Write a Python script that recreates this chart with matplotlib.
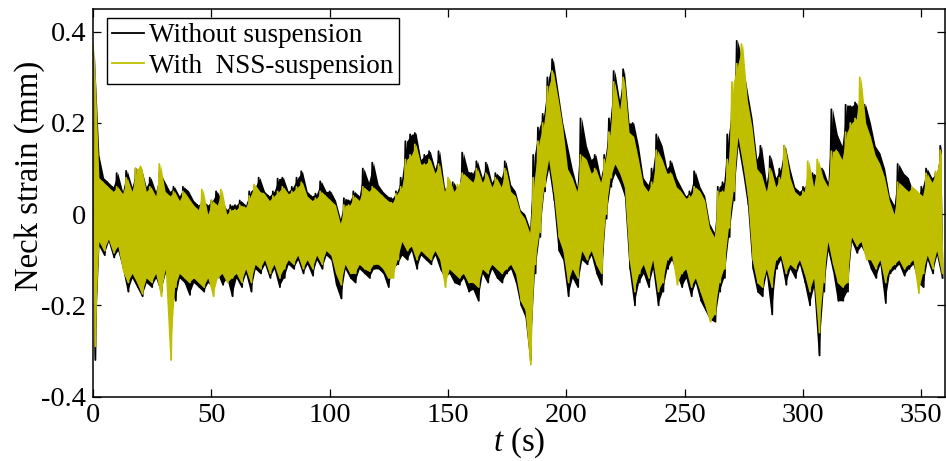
import numpy as np
import matplotlib
matplotlib.use("Agg")
import matplotlib.pyplot as plt

plt.rcParams['font.family'] = ['Liberation Serif', 'DejaVu Serif']
plt.rcParams['mathtext.fontset'] = 'custom'
plt.rcParams['mathtext.rm'] = 'Liberation Serif'
plt.rcParams['mathtext.it'] = 'Liberation Serif:italic'

# envelope readings, one pair per 2 s window: peak at even second, trough at odd second
black_hi = [0.36, 0.13, 0.08, 0.07, 0.06, 0.09, 0.05, 0.095, 0.06, 0.10,
            0.10, 0.06, 0.08, 0.05, 0.09, 0.07, 0.05, 0.06, 0.04, 0.06,
            0.05, 0.03, 0.02, 0.03, 0.02, 0.03, 0.05, 0.03, 0.01, 0.02,
            0.02, 0.03, 0.02, 0.05, 0.06, 0.08, 0.05, 0.04, 0.05, 0.078,
            0.08, 0.05, 0.06, 0.08, 0.094, 0.05, 0.04, 0.045, 0.072, 0.05,
            0.05, 0.03, -0.01, 0.035, 0.03, 0.05, 0.04, 0.10, 0.07, 0.113,
            0.065, 0.05, 0.04, 0.035, 0.05, 0.08, 0.16, 0.175, 0.178, 0.12,
            0.13, 0.138, 0.10, 0.138, 0.06, 0.04, 0.07, 0.05, 0.135, 0.094,
            0.09, 0.116, 0.08, 0.113, 0.07, 0.09, 0.08, 0.116, 0.065, 0.05,
            0.01, 0.0, -0.03, 0.13, 0.19, 0.22, 0.30, 0.34, 0.27, 0.20,
            0.15, 0.10, 0.06, 0.21, 0.15, 0.12, 0.13, 0.08, 0.13, 0.21,
            0.314, 0.25, 0.318, 0.20, 0.20, 0.15, 0.08, 0.065, 0.10, 0.175,
            0.15, 0.10, 0.116, 0.08, 0.06, 0.04, 0.05, 0.094, 0.06, 0.04,
            -0.02, -0.04, 0.06, 0.07, 0.175, 0.25, 0.38, 0.33, 0.27, 0.21,
            0.12, 0.15, 0.07, 0.127, 0.08, 0.10, 0.15, 0.10, 0.06, 0.05,
            0.06, 0.07, 0.09, 0.08, 0.10, 0.07, 0.23, 0.175, 0.15, 0.24,
            0.237, 0.245, 0.22, 0.24, 0.20, 0.15, 0.134, 0.10, 0.04, 0.02,
            0.11, 0.09, 0.08, 0.05, 0.04, 0.06, 0.10, 0.08, 0.09, 0.15]
black_lo = [-0.32, -0.07, -0.09, -0.06, -0.095, -0.08, -0.12, -0.17, -0.14, -0.16,
            -0.18, -0.15, -0.16, -0.14, -0.17, -0.13, -0.15, -0.19, -0.14, -0.15,
            -0.177, -0.15, -0.16, -0.17, -0.15, -0.16, -0.13, -0.155, -0.14, -0.18,
            -0.14, -0.16, -0.13, -0.17, -0.12, -0.13, -0.11, -0.14, -0.12, -0.16,
            -0.14, -0.11, -0.12, -0.10, -0.13, -0.11, -0.135, -0.10, -0.12, -0.09,
            -0.10, -0.155, -0.185, -0.12, -0.14, -0.15, -0.12, -0.13, -0.14, -0.12,
            -0.12, -0.13, -0.16, -0.12, -0.11, -0.09, -0.10, -0.08, -0.12, -0.09,
            -0.10, -0.11, -0.09, -0.12, -0.14, -0.13, -0.15, -0.155, -0.14, -0.17,
            -0.165, -0.19, -0.13, -0.15, -0.12, -0.14, -0.15, -0.13, -0.12, -0.15,
            -0.20, -0.225, -0.32, -0.13, -0.05, 0.05, 0.10, 0.03, -0.08, -0.10,
            -0.18, -0.14, -0.16, -0.10, -0.11, -0.09, -0.13, -0.155, -0.01, 0.06,
            0.09, 0.07, 0.04, -0.12, -0.20, -0.15, -0.13, -0.16, -0.12, -0.20,
            -0.17, -0.12, -0.10, -0.13, -0.16, -0.14, -0.18, -0.15, -0.19, -0.21,
            -0.23, -0.236, -0.17, -0.14, -0.05, 0.03, 0.15, 0.09, 0.02, -0.12,
            -0.17, -0.18, -0.13, -0.22, -0.12, -0.10, -0.155, -0.12, -0.14, -0.11,
            -0.15, -0.20, -0.16, -0.31, -0.17, -0.08, -0.125, -0.19, -0.19, -0.17,
            -0.06, -0.085, -0.07, -0.09, -0.12, -0.14, -0.11, -0.195, -0.13, -0.12,
            -0.11, -0.135, -0.12, -0.11, -0.15, -0.16, -0.10, -0.13, -0.09, -0.14]
nss_hi = [0.37, 0.08, 0.07, 0.06, 0.05, 0.06, 0.045, 0.08, 0.05, 0.10,
          0.105, 0.05, 0.06, 0.04, 0.11, 0.05, 0.04, 0.05, 0.03, 0.05,
          0.035, 0.02, 0.01, 0.054, 0.0, 0.03, 0.02, 0.054, 0.0, 0.01,
          0.01, 0.02, 0.015, 0.04, 0.065, 0.05, 0.045, 0.03, 0.04, 0.05,
          0.06, 0.045, 0.05, 0.06, 0.07, 0.04, 0.03, 0.035, 0.05, 0.04,
          0.03, 0.02, -0.02, 0.02, 0.02, 0.04, 0.03, 0.06, 0.05, 0.06,
          0.05, 0.04, 0.03, 0.025, 0.045, 0.06, 0.12, 0.13, 0.153, 0.11,
          0.11, 0.12, 0.09, 0.11, 0.05, 0.08, 0.05, 0.065, 0.09, 0.08,
          0.07, 0.10, 0.07, 0.09, 0.06, 0.08, 0.06, 0.10, 0.05, 0.04,
          0.005, -0.01, -0.04, 0.08, 0.16, 0.20, 0.28, 0.314, 0.255, 0.19,
          0.10, 0.08, 0.05, 0.13, 0.12, 0.09, 0.10, 0.07, 0.12, 0.18,
          0.29, 0.23, 0.30, 0.18, 0.17, 0.12, 0.065, 0.05, 0.07, 0.14,
          0.12, 0.09, 0.09, 0.06, 0.05, 0.035, 0.04, 0.06, 0.05, 0.03,
          -0.03, -0.05, 0.05, 0.05, 0.12, 0.29, 0.33, 0.373, 0.25, 0.19,
          0.10, 0.087, 0.05, 0.10, 0.06, 0.08, 0.15, 0.08, 0.05, 0.04,
          0.05, 0.116, 0.06, 0.12, 0.08, 0.06, 0.138, 0.14, 0.12, 0.18,
          0.20, 0.21, 0.30, 0.20, 0.17, 0.13, 0.11, 0.08, 0.03, 0.0,
          0.07, 0.06, 0.05, 0.06, 0.05, 0.04, 0.09, 0.07, 0.094, 0.14]
nss_lo = [-0.29, -0.06, -0.08, -0.055, -0.085, -0.07, -0.125, -0.15, -0.13, -0.15,
          -0.175, -0.14, -0.15, -0.13, -0.18, -0.12, -0.32, -0.16, -0.13, -0.14,
          -0.15, -0.14, -0.15, -0.16, -0.14, -0.18, -0.14, -0.13, -0.15, -0.14,
          -0.13, -0.15, -0.12, -0.15, -0.11, -0.12, -0.10, -0.13, -0.11, -0.14,
          -0.12, -0.10, -0.11, -0.09, -0.12, -0.10, -0.12, -0.09, -0.11, -0.08,
          -0.09, -0.13, -0.155, -0.11, -0.13, -0.13, -0.11, -0.12, -0.125, -0.11,
          -0.11, -0.12, -0.14, -0.14, -0.10, -0.06, -0.08, -0.07, -0.10, -0.08,
          -0.09, -0.10, -0.08, -0.10, -0.16, -0.12, -0.13, -0.14, -0.13, -0.15,
          -0.15, -0.16, -0.12, -0.13, -0.11, -0.12, -0.13, -0.12, -0.11, -0.13,
          -0.19, -0.21, -0.33, -0.11, -0.04, 0.06, 0.12, 0.05, -0.05, -0.08,
          -0.15, -0.12, -0.14, -0.08, -0.10, -0.08, -0.11, -0.13, 0.0, 0.08,
          0.11, 0.09, 0.06, -0.10, -0.17, -0.13, -0.11, -0.14, -0.10, -0.17,
          -0.15, -0.10, -0.09, -0.155, -0.13, -0.12, -0.16, -0.14, -0.17, -0.20,
          -0.236, -0.22, -0.15, -0.12, -0.03, 0.05, 0.17, 0.11, 0.04, -0.10,
          -0.15, -0.16, -0.12, -0.16, -0.10, -0.09, -0.13, -0.11, -0.12, -0.10,
          -0.13, -0.17, -0.14, -0.26, -0.15, -0.06, -0.11, -0.15, -0.16, -0.15,
          -0.05, -0.07, -0.06, -0.10, -0.10, -0.12, -0.10, -0.15, -0.12, -0.11,
          -0.10, -0.12, -0.11, -0.10, -0.173, -0.13, -0.09, -0.12, -0.08, -0.13]

x_ticks = [0, 50, 100, 150, 200, 250, 300, 350]
y_ticks = [-0.4, -0.2, 0, 0.2, 0.4]
y_tick_labels = ['-0.4', '-0.2', '0', '0.2', '0.4']
labels = ['Without suspension', 'With  NSS-suspension']
colors = ['black', '#bfbf00']


def zigzag(hi, lo):
    # peaks on even seconds, troughs on odd seconds
    out = np.empty(2 * len(hi))
    out[0::2] = hi
    out[1::2] = lo
    return out


t = np.arange(2 * len(black_hi))
t_win = t[0::2] + 0.5

fig = plt.figure(figsize=(9.46, 4.61), dpi=100)
ax = fig.add_axes([93 / 946, 1 - 396.5 / 461, 852 / 946, 387.5 / 461])

series = [(black_hi, black_lo, colors[0], labels[0]),
          (nss_hi, nss_lo, colors[1], labels[1])]
for k, (hi, lo, c, lab) in enumerate(series):
    # dense oscillation: band between the envelopes plus the trace itself
    ax.fill_between(t_win, lo, hi, color=c, lw=0, zorder=2 * k + 1)
    ax.plot(t, zigzag(hi, lo), color=c, lw=1.3, label=lab, zorder=2 * k + 2)

ax.set_xlim(0, 360)
ax.set_ylim(-0.4, 0.45)
ax.set_xticks(x_ticks)
ax.set_yticks(y_ticks)
ax.set_yticklabels(y_tick_labels)
ax.tick_params(direction='in', top=True, right=True, length=6, width=0.9,
               labelsize=20.5, pad=5)
for s in ax.spines.values():
    s.set_linewidth(1.1)
    s.set_zorder(10)

ax.set_ylabel('Neck strain (mm)', fontsize=23.5)
ax.yaxis.set_label_coords(-0.056, 0.57)
ax.set_xlabel('$t$ (s)', fontsize=23.5, labelpad=-2)

leg = ax.legend(loc='upper left', bbox_to_anchor=(0.0164, 0.977), borderaxespad=0,
                fontsize=19.5, frameon=True, fancybox=False, framealpha=1,
                edgecolor='black', handlelength=1.15, handletextpad=0.2,
                labelspacing=0.2, borderpad=0.2)
leg.get_frame().set_linewidth(1.0)
leg.set_zorder(20)

fig.savefig('out.png', dpi=100)
